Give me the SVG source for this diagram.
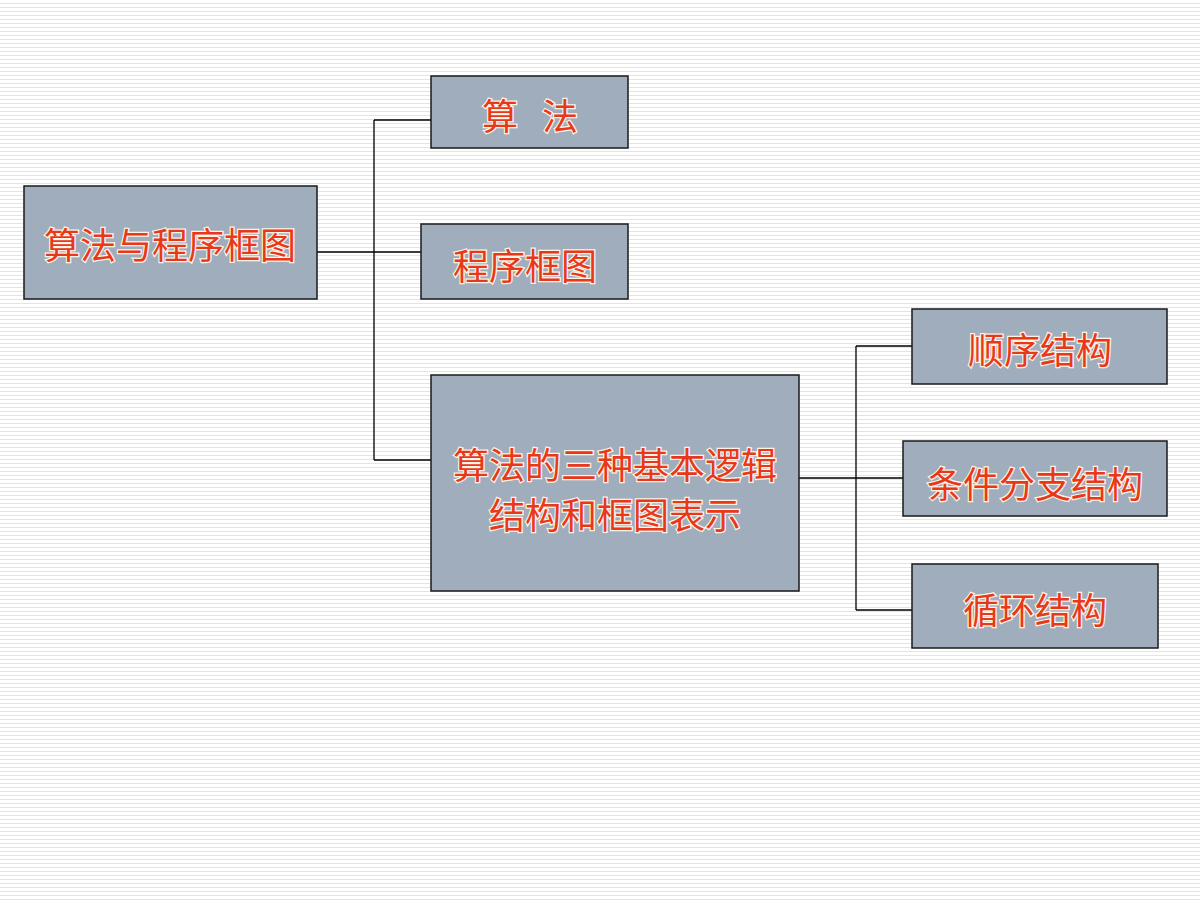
<svg xmlns="http://www.w3.org/2000/svg" width="1200" height="900" viewBox="0 0 1200 900">
<defs>
<pattern id="stripes" width="4" height="4" patternUnits="userSpaceOnUse"><rect width="4" height="4" fill="#ffffff"/><rect y="3" width="4" height="1" fill="#e4e4e4"/></pattern>
<style>
.box{fill:#a0adbc;stroke:#1a1a1a;stroke-width:1.5}
.t{font-family:"Noto Sans CJK SC","Liberation Serif",serif;font-size:36px;fill:#e8381a;stroke:#fff3e6;stroke-width:2.5;paint-order:stroke;text-anchor:middle;dominant-baseline:central}
.c{stroke:#000;stroke-width:1.3;fill:none}
</style>
</defs>
<rect width="1200" height="900" fill="url(#stripes)"/>
<g id="connectors">
<path class="c" d="M317,252H421M374,120V460M374,120H431M374,460H431"/>
<path class="c" d="M799,478H903M856,346V610M856,346H912M856,610H912"/>
</g>
<g id="root"><rect class="box" x="24" y="186" width="293" height="113"/><text class="t" x="170" y="243">算法与程序框图</text></g>
<g id="n1"><rect class="box" x="431" y="76" width="197" height="72"/><text class="t" x="530" y="114" xml:space="preserve">算   法</text></g>
<g id="n2"><rect class="box" x="421" y="224" width="207" height="75"/><text class="t" x="525" y="264">程序框图</text></g>
<g id="n3"><rect class="box" x="431" y="375" width="368" height="216"/><text class="t" x="615" y="463">算法的三种基本逻辑</text><text class="t" x="615" y="513">结构和框图表示</text></g>
<g id="n4"><rect class="box" x="912" y="309" width="255" height="75"/><text class="t" x="1040" y="348">顺序结构</text></g>
<g id="n5"><rect class="box" x="903" y="441" width="264" height="75"/><text class="t" x="1035" y="482">条件分支结构</text></g>
<g id="n6"><rect class="box" x="912" y="564" width="246" height="84"/><text class="t" x="1035" y="608">循环结构</text></g>
</svg>
